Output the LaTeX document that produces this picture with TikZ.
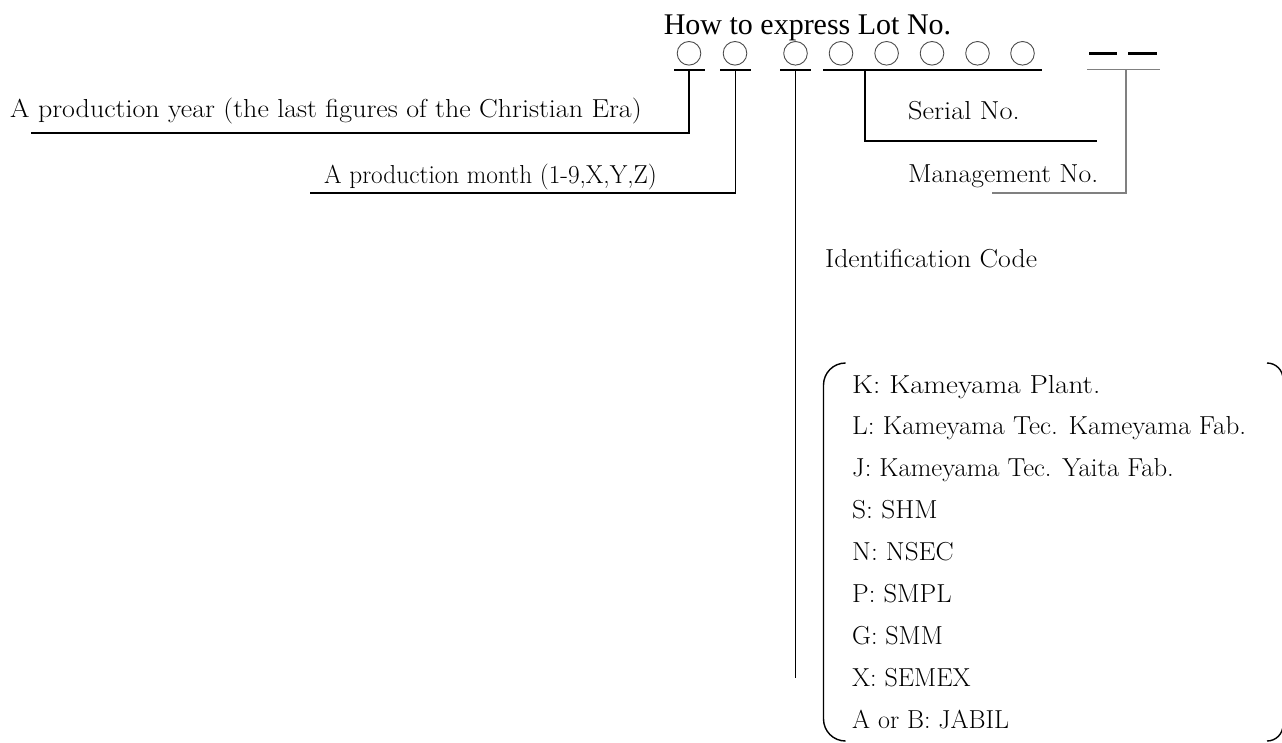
\documentclass[tikz,border=0pt]{standalone}
\usepackage{graphicx}
\usepackage{fontspec}
\newfontfamily\titlefont{Liberation Serif}
\begin{document}
\begin{tikzpicture}[x=1pt,y=-1pt,
  lbl/.style={anchor=base west, inner sep=0pt, font=\fontsize{26}{31}\selectfont},
  digit/.style={circle, draw=black!70, line width=0.9pt, minimum size=23.6pt, inner sep=0pt},
  bar/.style={line width=2.6pt},
  conn/.style={line width=1.8pt},
  grey/.style={draw=black!50, line width=1.6pt},
  brk/.style={line width=1.4pt},
  dashbar/.style={line width=3pt}
]
\useasboundingbox (0,0) rectangle (1282,742);
\clip (0,0) rectangle (1282,742);

% title
\node[anchor=base, inner sep=0pt, font=\titlefont\fontsize{30}{36}\selectfont] (title) at (807.5,34) {How to express Lot No.};

% digit circles
\foreach \n/\x in {1/689,2/735,3/795.5,4/841,5/886.6,6/932,7/977.5,8/1022.5}
  \node[digit] (c\n) at (\x,53.3) {};

% underline bars
\draw[bar] (674,70) -- (705,70);
\draw[bar] (720,70) -- (751,70);
\draw[bar] (780,70) -- (811,70);
\draw[bar] (823,70) -- (1042,70);
\coordinate (b1) at (689,70);
\coordinate (b2) at (735.5,70);
\coordinate (b3) at (795.5,70);
\coordinate (b4) at (865,70);

% management dashes and grey bar
\draw[dashbar] (1089,53) -- (1117,53);
\draw[dashbar] (1128,53) -- (1157,53);
\draw[grey] (1087,69.5) -- (1160,69.5);
\coordinate (gb) at (1126,69.5);

% labels
\node[lbl] (year) at (10,117) {\scalebox{1.075}[1]{A production year (the last figures of the Christian Era)}};
\node[lbl] (month) at (324,183) {\scalebox{0.972}[1]{A production month (1-9,X,Y,Z)}};
\node[lbl] (serial) at (908,119) {\scalebox{1.09}[1]{Serial No.}};
\node[lbl] (mgmt) at (908,182) {\scalebox{1.065}[1]{Management No.}};
\node[lbl] (ident) at (825,267) {\scalebox{1.066}[1]{Identification Code}};

% connector ends
\coordinate (yearEnd) at (31,133);
\coordinate (monthEnd) at (310,193);
\coordinate (idEnd) at (795.5,678);
\coordinate (serialEnd) at (1097,141);
\coordinate (mgmtEnd) at (992,193);

\draw[conn] (b1) |- (yearEnd);
\draw[conn] (b2) |- (monthEnd);
\draw[conn] (b3) -- (idEnd);
\draw[conn] (b4) |- (serialEnd);
\draw[grey] (gb) |- (mgmtEnd);

% bracket
\draw[brk, rounded corners=22pt] (845,363) -- (823.5,363) -- (823.5,741) -- (845,741);
\draw[brk, rounded corners=16pt] (1267,363) -- (1283,363) -- (1283,741) -- (1267,741);

% list
\foreach \i/\f/\t in {0/1.122/K: Kameyama Plant.,1/1.042/L: Kameyama Tec. Kameyama Fab.,2/1.025/J: Kameyama Tec. Yaita Fab.,3/1.055/S: SHM,4/1.043/N: NSEC,5/1.02/P: SMPL,6/1.0/G: SMM,7/1.0/X: SEMEX,8/1.0/A or B: JABIL}
  \node[lbl] (item\i) at (852,{393+41.9*\i}) {\scalebox{\f}[1]{\t}};
\end{tikzpicture}
\end{document}
